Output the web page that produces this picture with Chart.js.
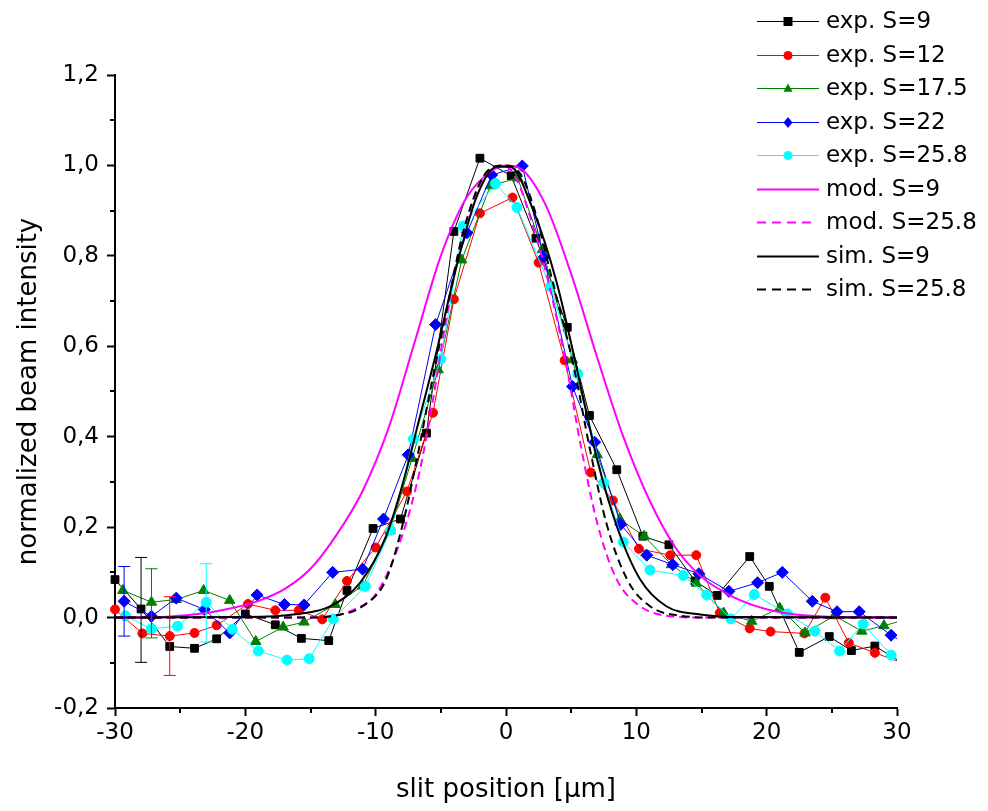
<!DOCTYPE html>
<html>
<head>
<meta charset="utf-8">
<script src="https://cdn.jsdelivr.net/npm/chart.js@4.4.1/dist/chart.umd.min.js"></script>
<style>
html, body { margin: 0; padding: 0; background: #fff; }
#wrap { width: 988px; height: 811px; }
</style>
</head>
<body>
<div id="wrap"><canvas id="beamChart"></canvas></div>
<script>
// measured profiles, x = slit position [um], y = normalized intensity
const expS9X = [-30, -28, -25.8, -23.9, -22.2, -20, -17.7, -15.7, -13.6, -12.2, -10.2, -8.1, -6.1, -4, -2, 0.4, 2.3, 4.7, 6.4, 8.5, 10.5, 12.5, 14.5, 16.2, 18.7, 20.2, 22.5, 24.8, 26.5, 28.3, 30.4];
const expS9Y = [0.084, 0.019, -0.064, -0.068, -0.047, 0.008, -0.016, -0.046, -0.051, 0.06, 0.197, 0.218, 0.408, 0.854, 1.016, 0.977, 0.839, 0.642, 0.447, 0.327, 0.18, 0.161, 0.081, 0.049, 0.135, 0.069, -0.077, -0.042, -0.073, -0.063, -0.1];

const expS12X = [-30, -27.9, -25.8, -23.9, -22.2, -19.8, -17.7, -15.9, -14.1, -12.2, -10, -7.6, -5.6, -4, -2, 0.5, 2.5, 4.5, 6.5, 8.2, 10.2, 12.6, 14.6, 16.4, 18.7, 20.3, 22.9, 24.5, 26.3, 28.3, 30.4];
const expS12Y = [0.018, -0.035, -0.041, -0.034, -0.017, 0.03, 0.016, 0.016, -0.004, 0.081, 0.155, 0.279, 0.453, 0.704, 0.894, 0.929, 0.785, 0.569, 0.321, 0.259, 0.152, 0.138, 0.138, 0.01, -0.024, -0.031, -0.035, 0.044, -0.056, -0.078, -0.1];

const expS175X = [-29.4, -27.2, -25.3, -23.2, -21.2, -19.2, -17.1, -15.5, -13.1, -11, -8.9, -7.2, -5.2, -3.4, -1.2, 0.9, 2.8, 5.1, 7, 8.75, 10.6, 12.7, 14.6, 16.7, 18.85, 21, 22.95, 25.2, 27.3, 29, 30.6];
const expS175Y = [0.06, 0.034, 0.04, 0.06, 0.038, -0.053, -0.021, -0.01, 0.029, 0.07, 0.192, 0.352, 0.548, 0.791, 0.955, 0.972, 0.814, 0.57, 0.36, 0.217, 0.18, 0.117, 0.076, 0.01, -0.008, 0.021, -0.034, 0.004, -0.03, -0.018, -0.005];

const expS22X = [-29.3, -27.2, -25.3, -23.15, -21.2, -19.1, -17, -15.5, -13.3, -11, -9.4, -7.5, -5.4, -3, -1.1, 1.25, 2.9, 5.1, 6.8, 8.8, 10.8, 12.8, 14.8, 17.1, 19.3, 21.2, 23.5, 25.4, 27.1, 29.55, 31];
const expS22Y = [0.036, 0.003, 0.043, 0.018, -0.034, 0.05, 0.029, 0.028, 0.1, 0.107, 0.218, 0.36, 0.648, 0.851, 0.979, 0.999, 0.797, 0.511, 0.388, 0.206, 0.138, 0.117, 0.097, 0.058, 0.077, 0.1, 0.036, 0.013, 0.013, -0.039, -0.065];

const expS258X = [-29.2, -27.2, -25.2, -23, -21, -19, -16.8, -15.1, -13.25, -10.8, -8.85, -7.1, -5, -3.3, -0.8, 0.84, 3.4, 5.5, 7.5, 9, 11.05, 13.6, 15.4, 17.25, 19.05, 21.6, 23.7, 25.6, 27.4, 29.55, 31];
const expS258Y = [0.004, -0.025, -0.019, 0.034, -0.026, -0.074, -0.094, -0.091, -0.003, 0.069, 0.193, 0.395, 0.572, 0.866, 0.96, 0.907, 0.732, 0.539, 0.298, 0.167, 0.105, 0.093, 0.05, -0.003, 0.051, 0.008, -0.03, -0.074, -0.014, -0.083, -0.11];

// model and simulation curves
const modS9X = [-30, -26, -23, -21, -19, -17, -15, -13, -11, -9, -7, -5, -3, -1, 0, 1, 3, 5, 7, 9, 11, 13, 15, 17, 19, 21, 24, 30];
const modS9Y = [0, 0.002, 0.01, 0.021, 0.037, 0.063, 0.108, 0.183, 0.28, 0.42, 0.61, 0.8, 0.93, 0.99, 1.0, 0.995, 0.915, 0.76, 0.575, 0.4, 0.26, 0.155, 0.09, 0.052, 0.027, 0.012, 0.003, 0];

const modS258X = [-30, -16, -13.5, -11.5, -9.9, -7.9, -6.6, -5.6, -4.55, -3.3, -1.5, -0.2, 0.8, 1.85, 3.4, 4.65, 5.7, 7, 8.5, 10.3, 12.3, 15, 30];
const modS258Y = [0, 0, 0.003, 0.02, 0.055, 0.187, 0.327, 0.482, 0.666, 0.85, 0.983, 1.0, 0.97, 0.887, 0.725, 0.555, 0.386, 0.209, 0.084, 0.025, 0.004, 0, 0];

const simS9X = [-30, -20, -16, -13.5, -11.2, -9.2, -7.9, -6.6, -5.3, -3.8, -2.25, -0.7, 0.3, 2.1, 3.9, 5.4, 7, 8.5, 10.3, 12.3, 14.9, 18, 30];
const simS9Y = [0, 0.001, 0.008, 0.025, 0.077, 0.18, 0.298, 0.445, 0.592, 0.776, 0.931, 0.997, 0.997, 0.9, 0.74, 0.555, 0.349, 0.202, 0.084, 0.025, 0.007, 0.001, 0];

const simS258X = [-30, -15, -13, -11, -9.2, -7.9, -6.85, -5.8, -4.55, -3.3, -1.75, -0.2, 1, 2.1, 3.6, 5.2, 6.45, 7.7, 9.3, 11.05, 13.4, 16, 30];
const simS258Y = [0, 0, 0.005, 0.025, 0.084, 0.209, 0.349, 0.504, 0.681, 0.85, 0.975, 1.0, 0.985, 0.91, 0.74, 0.555, 0.371, 0.209, 0.084, 0.025, 0.004, 0, 0];

// one error bar per measured series, near the left edge
const errSeries = [0, 1, 2, 3, 4];
const errX = [-28, -25.8, -27.2, -29.3, -23];
const errLow = [-0.099, -0.128, -0.045, -0.041, -0.054];
const errHigh = [0.133, 0.046, 0.108, 0.113, 0.119];

const FONT = 'DejaVu Sans';

function pts(xs, ys) {
    return xs.map((x, i) => ({ x: x, y: ys[i] }));
}

function expSet(label, xs, ys, color, style, radius) {
    return {
        label: label,
        data: pts(xs, ys),
        borderColor: color,
        backgroundColor: color,
        pointBackgroundColor: color,
        pointBorderColor: color,
        pointStyle: style,
        pointRadius: radius,
        pointBorderWidth: 1,
        borderWidth: 1,
        tension: 0,
        clip: { left: 10, top: 10, right: 0, bottom: 10 }
    };
}

function curveSet(label, xs, ys, color, dashed) {
    return {
        label: label,
        data: pts(xs, ys),
        borderColor: color,
        backgroundColor: color,
        borderWidth: 2,
        borderDash: dashed ? [8, 5] : [],
        pointRadius: 0,
        cubicInterpolationMode: 'monotone'
    };
}

const datasets = [
    expSet('exp. S=9', expS9X, expS9Y, '#000000', 'rect', 5.5),
    expSet('exp. S=12', expS12X, expS12Y, '#ff0000', 'circle', 4.5),
    expSet('exp. S=17.5', expS175X, expS175Y, '#008000', 'triangle', 6),
    expSet('exp. S=22', expS22X, expS22Y, '#0000ff', 'rectRot', 6),
    expSet('exp. S=25.8', expS258X, expS258Y, '#00ffff', 'circle', 5),
    curveSet('mod. S=9', modS9X, modS9Y, '#ff00ff', false),
    curveSet('mod. S=25.8', modS258X, modS258Y, '#ff00ff', true),
    curveSet('sim. S=9', simS9X, simS9Y, '#000000', false),
    curveSet('sim. S=25.8', simS258X, simS258Y, '#000000', true)
];
// later entries on top
datasets.forEach((ds, i) => { ds.order = datasets.length - i; });

function marker(ctx, style, x, y, r) {
    ctx.beginPath();
    if (style === 'rect') {
        ctx.rect(x - r, y - r, 2 * r, 2 * r);
    } else if (style === 'triangle') {
        ctx.moveTo(x, y - r * 1.1);
        ctx.lineTo(x + r, y + r * 0.7);
        ctx.lineTo(x - r, y + r * 0.7);
        ctx.closePath();
    } else if (style === 'rectRot') {
        ctx.moveTo(x, y - r * 1.2);
        ctx.lineTo(x + r, y);
        ctx.lineTo(x, y + r * 1.2);
        ctx.lineTo(x - r, y);
        ctx.closePath();
    } else {
        ctx.arc(x, y, r, 0, Math.PI * 2);
    }
    ctx.fill();
}

const minorTicks = {
    id: 'minorTicks',
    afterDraw(chart) {
        const ctx = chart.ctx;
        const xs = chart.scales.x, ys = chart.scales.y;
        const area = chart.chartArea;
        ctx.save();
        ctx.strokeStyle = '#000';
        ctx.lineWidth = 2;
        ctx.beginPath();
        for (let i = 0; i < 7; i++) {
            const py = Math.round(ys.getPixelForValue(-0.1 + 0.2 * i));
            ctx.moveTo(area.left - 5, py);
            ctx.lineTo(area.left, py);
        }
        for (let i = 0; i < 6; i++) {
            const px = Math.round(xs.getPixelForValue(-25 + 10 * i));
            ctx.moveTo(px, area.bottom);
            ctx.lineTo(px, area.bottom + 5);
        }
        ctx.stroke();
        ctx.restore();
    }
};

const errorBars = {
    id: 'errorBars',
    afterDatasetsDraw(chart) {
        const ctx = chart.ctx;
        const xs = chart.scales.x, ys = chart.scales.y;
        ctx.save();
        ctx.lineWidth = 1;
        errSeries.forEach((s, i) => {
            const px = xs.getPixelForValue(errX[i]);
            const top = ys.getPixelForValue(errHigh[i]);
            const bot = ys.getPixelForValue(errLow[i]);
            ctx.strokeStyle = chart.data.datasets[s].borderColor;
            ctx.beginPath();
            ctx.moveTo(px, top); ctx.lineTo(px, bot);
            ctx.moveTo(px - 6, top); ctx.lineTo(px + 6, top);
            ctx.moveTo(px - 6, bot); ctx.lineTo(px + 6, bot);
            ctx.stroke();
        });
        ctx.restore();
    }
};

const sideLegend = {
    id: 'sideLegend',
    afterDraw(chart) {
        const ctx = chart.ctx;
        ctx.save();
        ctx.font = '23px "' + FONT + '"';
        ctx.textBaseline = 'middle';
        chart.data.datasets.forEach((ds, i) => {
            const y = Math.round(21 + i * 33.5) + 0.5;
            const dashed = ds.borderDash && ds.borderDash.length > 0;
            ctx.strokeStyle = ds.borderColor;
            ctx.lineWidth = ds.borderWidth > 1 ? 2 : 1;
            ctx.setLineDash(dashed ? [9, 6] : []);
            ctx.beginPath();
            ctx.moveTo(757, y);
            ctx.lineTo(dashed ? 812 : 819, y);
            ctx.stroke();
            ctx.setLineDash([]);
            if (ds.pointRadius > 0) {
                ctx.fillStyle = ds.pointBackgroundColor;
                marker(ctx, ds.pointStyle, 788, y, 4.5);
            }
            ctx.fillStyle = '#000';
            ctx.fillText(ds.label, 826, y + 1);
        });
        ctx.restore();
    }
};

new Chart(document.getElementById('beamChart'), {
    type: 'line',
    data: { datasets: datasets },
    options: {
        responsive: true,
        maintainAspectRatio: false,
        animation: false,
        layout: { padding: { top: 75, right: 91, bottom: 0, left: 0 } },
        plugins: {
            legend: { display: false },
            tooltip: { enabled: false }
        },
        scales: {
            x: {
                type: 'linear',
                min: -30,
                max: 30,
                ticks: {
                    stepSize: 10,
                    color: '#000',
                    padding: 3,
                    font: { family: FONT, size: 23 },
                    callback: v => String(v)
                },
                grid: { drawOnChartArea: false, tickLength: 8, tickWidth: 2, tickColor: '#000' },
                border: { color: '#000', width: 2 },
                title: {
                    display: true,
                    text: 'slit position [μm]',
                    color: '#000',
                    font: { family: FONT, size: 26 },
                    padding: { top: 0, bottom: 5 }
                },
                afterFit: s => { s.height = 103; }
            },
            y: {
                min: -0.2,
                max: 1.2,
                ticks: {
                    stepSize: 0.2,
                    color: '#000',
                    padding: 8,
                    font: { family: FONT, size: 23 },
                    callback: v => (Math.abs(v) < 1e-9 ? 0 : v).toFixed(1).replace('.', ',')
                },
                grid: { drawOnChartArea: false, tickLength: 8, tickWidth: 2, tickColor: '#000' },
                border: { color: '#000', width: 2 },
                title: {
                    display: true,
                    text: 'normalized beam intensity',
                    color: '#000',
                    font: { family: FONT, size: 26 },
                    padding: { top: 14, bottom: 0 }
                },
                afterFit: s => { s.width = 115; }
            }
        }
    },
    plugins: [minorTicks, errorBars, sideLegend]
});
</script>
</body>
</html>
